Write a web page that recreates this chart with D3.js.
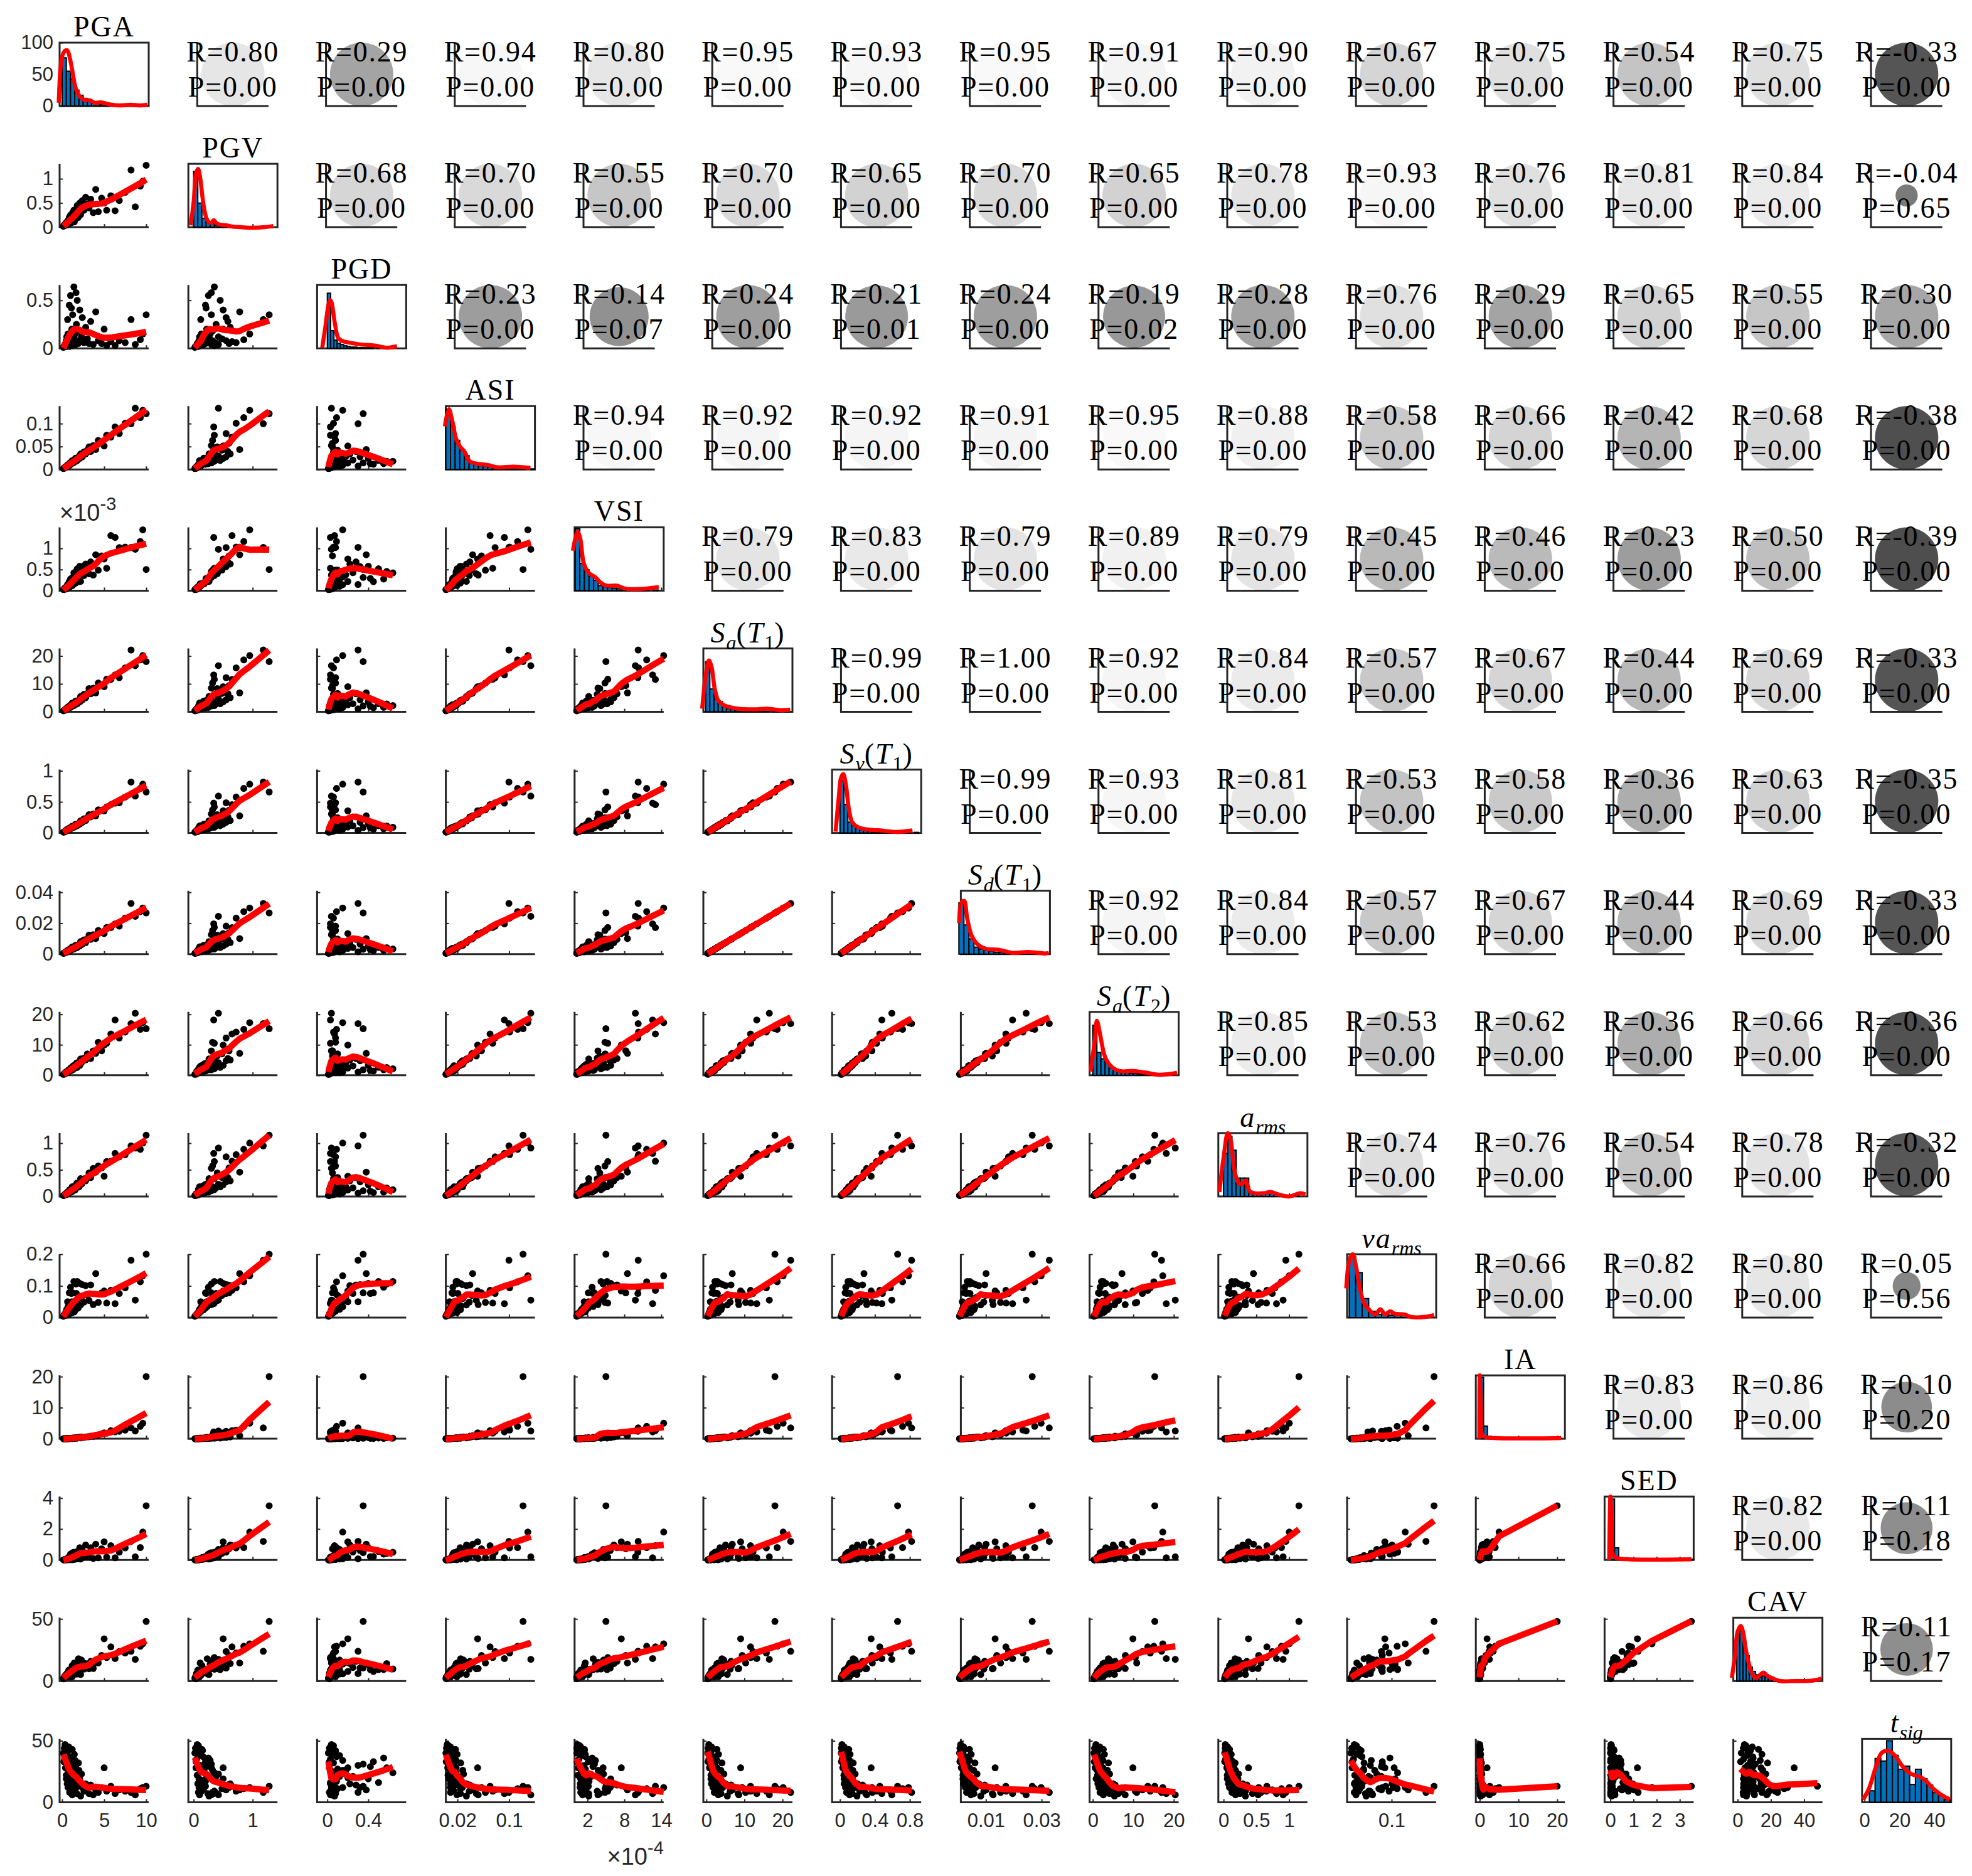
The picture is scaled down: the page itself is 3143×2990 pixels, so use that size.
<!DOCTYPE html>
<html>
<head>
<meta charset="utf-8">
<title>Correlation matrix</title>
<script src="https://d3js.org/d3.v7.min.js"></script>
<style>
  body { margin: 0; background: #fff; }
</style>
</head>
<body>
<div id="chartDiv"></div>
<script>
// ---------- variables (one value per record) ----------
var names = ['PGA', 'PGV', 'PGD', 'ASI', 'VSI', '$S_a(T_1)$', '$S_v(T_1)$', '$S_d(T_1)$', '$S_a(T_2)$',
             '$a_{rms}$', '$va_{rms}$', 'IA', 'SED', 'CAV', '$t_{sig}$'];

var PGA = [0.15,0.25,0.3,0.4,0.45,0.5,0.55,0.6,0.65,0.7,0.75,0.8,0.85,0.9,0.95,1.0,1.05,1.1,1.15,1.2,1.25,1.3,1.35,1.4,1.5,1.55,1.6,1.7,1.75,1.8,1.9,2.0,2.1,2.2,2.3,2.4,2.6,2.8,3.0,3.2,3.4,3.7,4.0,4.3,4.7,5.0,5.3,5.8,6.3,6.8,7.5,8.2,8.7,9.3,9.6,10.0,
           0.2,0.35,0.5,0.6,0.7,0.8,0.9,1.0,1.1,1.2,1.3,1.45,1.65,1.95];
var PGV = [0.02,0.03,0.05,0.04,0.08,0.06,0.10,0.07,0.12,0.09,0.15,0.11,0.20,0.08,0.14,0.25,0.12,0.18,0.22,0.10,0.30,0.16,0.13,0.35,0.20,0.28,0.17,0.38,0.24,0.45,0.20,0.32,0.50,0.26,0.42,0.55,0.35,0.62,0.48,0.40,0.58,0.30,0.78,0.32,0.60,0.50,0.35,0.65,0.34,0.55,0.72,1.18,0.42,0.85,0.95,1.28,
           0.04,0.06,0.09,0.05,0.13,0.07,0.16,0.09,0.21,0.14,0.26,0.11,0.30,0.23];
var PGD = [0.01,0.02,0.03,0.02,0.06,0.05,0.12,0.03,0.30,0.04,0.08,0.05,0.45,0.02,0.07,0.55,0.04,0.10,0.20,0.03,0.35,0.06,0.05,0.64,0.09,0.15,0.04,0.25,0.08,0.50,0.05,0.18,0.40,0.07,0.12,0.32,0.06,0.22,0.10,0.05,0.28,0.04,0.38,0.08,0.05,0.20,0.03,0.07,0.03,0.08,0.06,0.30,0.04,0.09,0.15,0.35,
           0.02,0.04,0.08,0.02,0.15,0.03,0.09,0.03,0.42,0.06,0.12,0.04,0.58,0.06];
var ASI = [0.0021,0.0029,0.0046,0.0049,0.0063,0.0054,0.0074,0.0092,0.0075,0.0090,0.0110,0.0092,0.0114,0.0092,0.0146,0.0128,0.0121,0.0155,0.0140,0.0192,0.0144,0.0175,0.0147,0.0179,0.0221,0.0179,0.0246,0.0207,0.0246,0.0196,0.0243,0.0282,0.0242,0.0338,0.0294,0.0276,0.0383,0.0340,0.0422,0.0492,0.0392,0.0521,0.0435,0.0633,0.0572,0.0512,0.0746,0.0705,0.0927,0.0783,0.1008,0.0997,0.1336,0.1131,0.1290,0.1216,
           0.0026,0.0040,0.0070,0.0065,0.0094,0.0092,0.0132,0.0122,0.0127,0.0169,0.0158,0.0195,0.0180,0.0250];
var VSI = [0.26e-4,0.25e-4,0.60e-4,0.50e-4,0.73e-4,0.44e-4,1.03e-4,0.83e-4,1.46e-4,0.79e-4,1.50e-4,1.00e-4,2.13e-4,0.90e-4,1.54e-4,2.75e-4,1.18e-4,1.65e-4,2.16e-4,1.20e-4,3.13e-4,1.79e-4,1.52e-4,4.20e-4,2.25e-4,3.29e-4,1.80e-4,4.25e-4,2.19e-4,5.18e-4,2.14e-4,3.75e-4,5.78e-4,2.20e-4,4.60e-4,5.70e-4,3.58e-4,6.30e-4,4.88e-4,4.00e-4,6.80e-4,3.70e-4,8.50e-4,4.84e-4,8.23e-4,7.50e-4,5.30e-4,13.05e-4,12.60e-4,10.20e-4,10.31e-4,10.25e-4,9.79e-4,11.63e-4,14.40e-4,5.00e-4,
           0.30e-4,0.39e-4,0.88e-4,0.53e-4,1.40e-4,0.90e-4,1.69e-4,1.00e-4,2.89e-4,1.50e-4,2.60e-4,1.63e-4,4.54e-4,2.93e-4];
var SaT1 = [0.36,0.45,0.66,0.80,0.77,1.20,1.05,1.32,1.04,1.75,1.35,1.68,1.45,2.07,1.90,1.60,2.52,2.09,2.53,3.12,2.13,2.86,2.57,2.24,3.45,2.79,3.84,2.89,3.85,2.88,3.99,3.80,3.57,5.50,4.60,4.32,6.24,5.04,6.60,8.32,6.46,8.51,6.80,10.32,9.40,9.00,11.66,11.60,13.23,12.24,15.75,22.14,16.53,18.60,20.16,18.00,
            0.44,0.63,1.20,1.14,1.54,1.36,2.16,2.00,1.98,2.76,2.47,3.19,2.81,4.10];
var SvT1 = [0.014,0.016,0.025,0.032,0.027,0.045,0.042,0.048,0.042,0.064,0.053,0.059,0.059,0.076,0.074,0.066,0.089,0.081,0.095,0.110,0.086,0.106,0.099,0.092,0.124,0.110,0.140,0.116,0.141,0.118,0.143,0.147,0.143,0.195,0.174,0.171,0.227,0.200,0.245,0.295,0.259,0.306,0.275,0.371,0.366,0.357,0.419,0.456,0.480,0.486,0.578,0.820,0.594,0.717,0.785,0.660,
            0.017,0.023,0.048,0.042,0.061,0.049,0.083,0.072,0.080,0.101,0.098,0.116,0.113,0.152];
var SdT1 = [0.00053,0.00067,0.00098,0.00118,0.00114,0.00178,0.00155,0.00195,0.00154,0.00259,0.00200,0.00249,0.00215,0.00306,0.00281,0.00237,0.00373,0.00309,0.00374,0.00462,0.00315,0.00423,0.00380,0.00332,0.00511,0.00413,0.00568,0.00428,0.00570,0.00426,0.00591,0.00562,0.00528,0.00814,0.00681,0.00639,0.00924,0.00746,0.00977,0.01231,0.00956,0.01259,0.01006,0.01527,0.01391,0.01332,0.01726,0.01717,0.01958,0.01812,0.02331,0.03277,0.02446,0.02753,0.02984,0.02664,
            0.00065,0.00093,0.00178,0.00169,0.00228,0.00201,0.00320,0.00296,0.00293,0.00408,0.00366,0.00472,0.00416,0.00607];
var SaT2 = [0.30,0.41,0.65,0.58,0.89,1.17,0.84,1.24,1.05,1.51,1.08,1.80,1.38,1.78,1.45,1.80,2.46,1.78,2.38,2.59,1.80,2.57,3.16,2.14,3.24,2.51,3.60,3.06,4.10,2.59,3.93,3.60,3.21,5.35,4.14,4.75,5.62,5.04,7.02,6.34,5.51,7.99,7.20,10.84,8.04,9.90,10.49,13.57,18.14,12.24,14.18,16.97,20.36,15.07,17.28,15.30,
            0.36,0.76,0.81,1.19,1.07,1.73,1.46,2.07,1.58,2.59,2.22,2.87,2.52,3.86];
var arms = [0.017,0.024,0.031,0.049,0.034,0.057,0.047,0.074,0.062,0.090,0.057,0.084,0.073,0.128,0.099,0.081,0.140,0.099,0.120,0.182,0.107,0.161,0.180,0.126,0.171,0.125,0.205,0.162,0.249,0.180,0.226,0.181,0.219,0.334,0.229,0.274,0.333,0.293,0.356,0.441,0.355,0.527,0.456,0.572,0.536,0.380,0.655,0.661,0.808,0.743,0.784,0.950,0.909,0.884,1.003,1.150,
            0.017,0.027,0.057,0.048,0.070,0.061,0.077,0.124,0.099,0.091,0.136,0.117,0.157,0.176];
var varms = [0.004,0.006,0.010,0.007,0.017,0.013,0.026,0.012,0.050,0.016,0.028,0.019,0.078,0.012,0.025,0.096,0.019,0.034,0.050,0.016,0.078,0.026,0.022,0.114,0.035,0.052,0.025,0.076,0.038,0.114,0.030,0.060,0.108,0.040,0.065,0.104,0.049,0.101,0.070,0.054,0.103,0.041,0.139,0.048,0.078,0.084,0.046,0.086,0.044,0.076,0.094,0.181,0.055,0.113,0.132,0.200,
             0.007,0.012,0.020,0.008,0.034,0.012,0.030,0.014,0.076,0.024,0.046,0.018,0.106,0.035];
var IA = [0.005,0.012,0.016,0.03,0.025,0.033,0.04,0.038,0.054,0.045,0.063,0.082,0.082,0.061,0.082,0.11,0.091,0.123,0.134,0.092,0.165,0.168,0.135,0.177,0.23,0.246,0.214,0.256,0.2,0.24,0.31,0.4,0.42,0.26,0.56,0.42,0.46,0.6,0.65,0.63,0.82,0.77,0.96,1.2,1.6,1.9,1.8,2.6,2.2,2.4,2.8,3.5,2.5,4.0,5.0,20.0,
          0.004,0.016,0.028,0.043,0.059,0.077,0.101,0.113,0.131,0.164,0.179,0.246,0.317,0.456];
var SED = [0.003,0.007,0.015,0.008,0.049,0.013,0.063,0.012,0.072,0.016,0.158,0.051,0.220,0.009,0.059,0.376,0.024,0.146,0.162,0.010,0.466,0.060,0.025,0.491,0.114,0.445,0.053,0.506,0.067,0.541,0.087,0.445,0.793,0.056,0.678,0.606,0.184,0.963,0.423,0.187,0.786,0.090,1.016,0.137,0.721,1.169,0.184,0.917,0.135,0.505,0.779,1.2,0.2,0.8,1.8,3.5,
           0.009,0.028,0.026,0.017,0.073,0.037,0.158,0.022,0.214,0.141,0.237,0.079,0.421,0.283];
var CAV = [2.2,3.4,3.5,4.4,5.0,4.0,5.7,3.6,6.0,3.5,7.7,6.7,7.7,3.3,5.7,9.3,4.5,8.6,7.7,3.5,10.6,7.2,5.2,9.7,9.3,13.6,7.2,10.9,5.6,9.2,9.4,15.1,13.3,5.3,16.9,10.5,9.6,14.1,12.5,9.9,15.9,10.1,14.6,14.6,20.6,34.0,18.9,27.5,18.1,23.8,22.6,24,17.5,28,30,48,
           1.8,4.1,3.5,6.3,5.8,8.8,9.1,6.3,9.2,12.5,9.1,14.6,14.1,18.0];
var tsig = [40,44,35,28,46,22,38,15,30,12,42,25,33,8,18,36,10,27,20,6,31,14,9,24,17,34,11,21,7,16,13,26,19,5,23,12,9,15,11,7,14,6,10,8,12,28,9,13,7,10,9,8,6,11,12,13,
            33,47,19,41,26,45,37,16,29,43,21,39,28,32];

var series = [PGA, PGV, PGD, ASI, VSI, SaT1, SvT1, SdT1, SaT2, arms, varms, IA, SED, CAV, tsig];

// ---------- axis limits and ticks ----------
var xLim = [[-0.3,10.3],[-0.09,1.42],[-0.1,0.77],[0.002,0.14],[-0.1e-4,14.4e-4],[-0.8,22.6],[-0.09,0.93],
            [0.001,0.033],[-0.8,21.2],[-0.08,1.28],[-0.005,0.205],[-1,22],[-0.25,3.6],[-2.6,51],[-1.4,49.6]];
var yLim = [[0,100],[0,1.31],[0,0.66],[0,0.138],[0,1.5e-3],[0,22.7],[0,1.02],[0,0.041],[0,20.8],
            [0,1.19],[0,0.2],[0,20.4],[0,4.1],[0,51],[0,51.6]];
var xTicks = [[0,5,10],[0,1],[0,0.4],[0.02,0.1],[2e-4,8e-4,14e-4],[0,10,20],[0,0.4,0.8],[0.01,0.03],
              [0,10,20],[0,0.5,1],[0.1],[0,10,20],[0,1,2,3],[0,20,40],[0,20,40]];
var yTicks = [[0,50,100],[0,0.5,1],[0,0.5],[0,0.05,0.1],[0,0.5e-3,1e-3],[0,10,20],[0,0.5,1],[0,0.02,0.04],
              [0,10,20],[0,0.5,1],[0,0.1,0.2],[0,10,20],[0,2,4],[0,50],[0,50]];
var xExp = [0,0,0,0,-4,0,0,0,0,0,0,0,0,0,0];
var yExp = [0,0,0,0,-3,0,0,0,0,0,0,0,0,0,0];

// ---------- correlation coefficients (upper triangle, row i, columns i+1..14) ----------
var Rvals = [
  [0.80,0.29,0.94,0.80,0.95,0.93,0.95,0.91,0.90,0.67,0.75,0.54,0.75,-0.33],
  [0.68,0.70,0.55,0.70,0.65,0.70,0.65,0.78,0.93,0.76,0.81,0.84,-0.04],
  [0.23,0.14,0.24,0.21,0.24,0.19,0.28,0.76,0.29,0.65,0.55,0.30],
  [0.94,0.92,0.92,0.91,0.95,0.88,0.58,0.66,0.42,0.68,-0.38],
  [0.79,0.83,0.79,0.89,0.79,0.45,0.46,0.23,0.50,-0.39],
  [0.99,1.00,0.92,0.84,0.57,0.67,0.44,0.69,-0.33],
  [0.99,0.93,0.81,0.53,0.58,0.36,0.63,-0.35],
  [0.92,0.84,0.57,0.67,0.44,0.69,-0.33],
  [0.85,0.53,0.62,0.36,0.66,-0.36],
  [0.74,0.76,0.54,0.78,-0.32],
  [0.66,0.82,0.80,0.05],
  [0.83,0.86,0.10],
  [0.82,0.11],
  [0.11]
];
var Pvals = [
  [0,0,0,0,0,0,0,0,0,0,0,0,0,0],
  [0,0,0,0,0,0,0,0,0,0,0,0,0.65],
  [0,0.07,0,0.01,0,0.02,0,0,0,0,0,0],
  [0,0,0,0,0,0,0,0,0,0,0],
  [0,0,0,0,0,0,0,0,0,0],
  [0,0,0,0,0,0,0,0,0],
  [0,0,0,0,0,0,0,0],
  [0,0,0,0,0,0,0],
  [0,0,0,0,0,0],
  [0,0,0,0,0],
  [0,0,0,0.56],
  [0,0,0.20],
  [0,0.18],
  [0.17]
];

// ---------- diagonal histograms (counts) and density curves ----------
var histStart = [0, 0, 0, 0.002, 0, -0.2, 0, 0.0003, 0, 0, 0, 0, 0, -0.6, 2.75];
var histWidth = [0.5, 0.07, 0.032, 0.0072, 0.75e-4, 1.1, 0.045, 0.0018, 1.0, 0.064, 0.0153, 1.0, 0.18, 1.9, 3.3];
var histCounts = [
  [76,55,43,25,17,12,7,5,3,3,2,2,1,1,1,1,0,1,0,1],
  [88,38,14,9,6,3,2,2,1,1,1,0,0,1,0,0,0,1],
  [87,28,13,8,6,4,3,2,2,1,1,1,1,1,0,1,0,1,1,0],
  [95,68,46,30,22,12,8,6,5,4,3,2,2,2,1,1,1,0,1],
  [98,43,33,23,16,8,6,5,4,3,2,2,1,1,1,1,0,1,0],
  [79,36,20,16,8,5,4,3,2,2,1,1,1,1,1,0,1,1,0,1],
  [82,45,17,11,7,5,4,3,2,2,1,1,1,1,0,1,0,1,0,1],
  [81,46,24,11,8,6,5,3,3,2,2,2,1,1,1,1,0,1],
  [79,36,26,21,11,8,6,4,4,3,3,2,2,1,1,1,1,0,1,1],
  [68,95,73,29,29,29,7,5,4,4,5,5,3,1,1,1,0,1,0],
  [96,71,30,10,5,6,4,5,3,2,1,1,1],
  [97,20,4,2,1,1,0,0,0,0,0,0,0,0,0,0,0,0,0,0,1],
  [96,19,3,2,1,1,0,0,0,0,0,0,0,0,0,0,0,0,0,1],
  [74,80,56,40,22,15,10,6,8,10,6,3,1,0,0,0,0,0,0,0,0,0,0,0,0,1],
  [18,69,65,97,74,52,57,28,52,37,27,15,11,4]
];
var density = [
  [[-0.4,5],[-0.1,71],[0.2,85],[0.6,88],[0.93,75],[1.26,52],[1.6,29],[2.1,15],[2.6,10],[3.3,9],[3.9,5],[4.6,6],[5.2,4],[5.9,2],[6.9,1],[8.2,2],[9.2,1],[10.1,2]],
  [[-0.05,3],[0.0,40],[0.04,85],[0.075,92],[0.11,78],[0.146,50],[0.18,28],[0.217,14],[0.26,8],[0.3,7],[0.34,11],[0.38,7],[0.45,4],[0.55,3],[0.65,1],[0.8,0],[1.0,-1],[1.2,0],[1.35,2]],
  [[-0.05,1],[-0.02,33],[0.01,68],[0.027,76],[0.04,73],[0.075,38],[0.107,16],[0.155,11],[0.235,8.5],[0.33,6],[0.46,4.5],[0.585,1],[0.68,3.5]],
  [[0.0005,68],[0.0066,95],[0.0117,78],[0.018,48],[0.024,36],[0.031,28],[0.039,13],[0.051,9],[0.067,7],[0.082,3.5],[0.107,4.5],[0.133,2.5]],
  [[-0.37e-4,63],[0.37e-4,93],[0.8e-4,83],[1.4e-4,43],[2.2e-4,28],[3.3e-4,21],[4.1e-4,13],[5.1e-4,8],[6.7e-4,8],[8.3e-4,3],[11e-4,3],[13.6e-4,6]],
  [[-1.1,5],[-0.2,56],[0.66,81],[1.35,71],[2.2,36],[3.1,18],[4.4,11],[5.7,8],[8.2,5],[12.6,4],[16,5],[19.5,2.5],[22,3.5]],
  [[-0.05,2],[-0.013,57],[0.012,87],[0.038,93],[0.067,77],[0.103,37],[0.14,17],[0.194,10],[0.285,6],[0.467,4],[0.65,1.5],[0.83,4]],
  [[0.0004,49],[0.0012,81],[0.0022,84],[0.0033,56],[0.0049,29],[0.0069,16],[0.0099,8.5],[0.0146,7],[0.0194,2],[0.0253,3.5],[0.0312,1],[0.0326,2]],
  [[-0.55,6],[0.5,56],[1.0,86],[1.9,61],[2.9,31],[4.2,16],[5.8,8.5],[7.5,6],[9.6,7],[12.8,4.5],[16,1],[19.1,2],[20.8,4]],
  [[-0.064,7],[0.0,61],[0.064,100],[0.11,88],[0.16,44],[0.224,22],[0.27,19],[0.336,25],[0.4,8],[0.48,5],[0.61,5],[0.72,7],[0.84,3],[1.0,0],[1.17,5],[1.25,3]],
  [[-0.007,46],[0.0004,90],[0.008,100],[0.016,81],[0.025,46],[0.035,23],[0.046,13],[0.062,5],[0.073,13],[0.085,5],[0.096,10],[0.108,6],[0.13,5],[0.146,1],[0.184,1.5],[0.2,4]],
  [[-0.1,0],[0.0,100],[0.3,40],[0.5,9],[1,4],[2,2],[4,1],[8,0.5],[14,0.5],[21,1]],
  [[-0.05,0],[0.0,100],[0.05,45],[0.1,10],[0.2,4],[0.4,2],[0.8,1],[1.5,0.5],[2.5,0.5],[3.5,1]],
  [[-3.5,5],[-1.4,44],[-0.1,77],[1.8,87],[3.3,77],[4.9,50],[6.8,27],[8.6,12],[11.1,5],[13.6,10],[15.5,13.5],[18,8],[20.5,5],[25.5,0],[34.2,0],[45.4,0.7],[50.4,4]],
  [[-0.8,4],[2.75,23],[6.3,54],[9.9,78],[14,81],[17.6,73],[21.7,57],[26.5,45],[31.8,40],[35.4,33],[39.5,21],[44.3,11],[49,4]]
];

// ---------- layout ----------
var W = 3143, H = 2990;
var left0 = 95, top0 = 68, stepX = 205.2, stepY = 193.1;
var bw = 142, bh = 101;
var nv = names.length;
var axisColor = '#262626';
var serif = '"Liberation Serif", "Times New Roman", serif';
var sans = '"Liberation Sans", Arial, Helvetica, sans-serif';

var svg = d3.select('#chartDiv').append('svg')
  .attr('width', W).attr('height', H)
  .style('background', '#fff');

var gray = d3.scaleLinear().domain([-1, 1]).range(['#000000', '#ffffff']);
var radius = d3.scaleLinear().domain([0, 1]).range([bh / 2, 0]);
var fmt = d3.format('~g');

function tickFmt(e) {
  var s = Math.pow(10, e);
  return function(d) { return fmt(+(d / s).toPrecision(6)); };
}

// local linear smoother (tricube weights)
function lowess(xs, ys, frac) {
  var n = xs.length, k = Math.max(4, Math.floor(frac * n));
  var order = d3.range(n).sort(function(a, b) { return xs[a] - xs[b]; });
  var out = [], last = null;
  order.forEach(function(i) {
    var x0 = xs[i];
    if (x0 === last) return;
    last = x0;
    var d = xs.map(function(x) { return Math.abs(x - x0); });
    var h = d.slice().sort(function(a, b) { return a - b; })[k - 1] * 1.0001 || 1e-12;
    var sw = 0, sx = 0, sy = 0, sxx = 0, sxy = 0;
    for (var m = 0; m < n; m++) {
      var u = d[m] / h;
      if (u >= 1) continue;
      var w = Math.pow(1 - u * u * u, 3);
      sw += w; sx += w * xs[m]; sy += w * ys[m];
      sxx += w * xs[m] * xs[m]; sxy += w * xs[m] * ys[m];
    }
    var mx = sx / sw, my = sy / sw, vx = sxx / sw - mx * mx;
    var b = vx > 1e-20 ? (sxy / sw - mx * my) / vx : 0;
    out.push([x0, my + b * (x0 - mx)]);
  });
  return out;
}

// tiny TeX-like parser for the titles
function parseTitle(s) {
  if (s[0] !== '$') return [{ t: s, it: false, sub: false }];
  s = s.slice(1, -1);
  var out = [], i = 0;
  while (i < s.length) {
    var c = s[i];
    if (c === '_') {
      var sub;
      if (s[i + 1] === '{') { var e = s.indexOf('}', i); sub = s.slice(i + 2, e); i = e + 1; }
      else { sub = s[i + 1]; i += 2; }
      out.push({ t: sub, it: /[a-z]/i.test(sub), sub: true });
    } else {
      out.push({ t: c, it: /[a-z]/i.test(c), sub: false });
      i++;
    }
  }
  return out;
}

function addTitle(g, cx, base, label) {
  var txt = g.append('text')
    .attr('x', cx).attr('y', base)
    .attr('text-anchor', 'middle')
    .attr('font-family', serif)
    .attr('font-size', 46)
    .attr('letter-spacing', 2)
    .attr('fill', '#000');
  var shift = 0;
  parseTitle(label).forEach(function(seg) {
    var s = seg.sub ? 11 : 0;
    txt.append('tspan')
      .attr('dy', s - shift)
      .attr('font-style', seg.it ? 'italic' : 'normal')
      .attr('font-size', seg.sub ? 32 : 46)
      .attr('letter-spacing', seg.sub ? 0 : 2)
      .text(seg.t);
    shift = s;
  });
}

function innerTicks(g, x, y, xt, yt, bottom, left) {
  g.append('g')
    .attr('transform', 'translate(0,' + bottom + ')')
    .call(d3.axisBottom(x).tickValues(xt).tickSizeInner(-5).tickSizeOuter(0).tickFormat(''))
    .call(function(a) { a.select('.domain').remove(); a.selectAll('line').attr('stroke', axisColor).attr('stroke-width', 2); });
  if (yt) {
    g.append('g')
      .attr('transform', 'translate(' + left + ',0)')
      .call(d3.axisLeft(y).tickValues(yt).tickSizeInner(-5).tickSizeOuter(0).tickFormat(''))
      .call(function(a) { a.select('.domain').remove(); a.selectAll('line').attr('stroke', axisColor).attr('stroke-width', 2); });
  }
}

function drawDiag(g, k, x0, y0) {
  var x = d3.scaleLinear().domain(xLim[k]).range([x0, x0 + bw]);
  var y = d3.scaleLinear().domain([0, 100]).range([y0 + bh, y0]);

  g.append('rect')
    .attr('x', x0).attr('y', y0).attr('width', bw).attr('height', bh)
    .attr('fill', 'none').attr('stroke', axisColor).attr('stroke-width', 3);

  innerTicks(g, x, y, xTicks[k], k === 0 ? yTicks[0] : null, y0 + bh, x0);

  g.selectAll('rect.bar')
    .data(histCounts[k].map(function(c, b) { return { c: c, b: b }; }).filter(function(d) { return d.c > 0; }))
    .enter().append('rect')
      .attr('class', 'bar')
      .attr('x', function(d) { return x(histStart[k] + d.b * histWidth[k]); })
      .attr('width', function(d) { return x(histStart[k] + (d.b + 1) * histWidth[k]) - x(histStart[k] + d.b * histWidth[k]); })
      .attr('y', function(d) { return y(d.c); })
      .attr('height', function(d) { return y(0) - y(d.c); })
      .attr('fill', '#0072BD')
      .attr('stroke', '#000')
      .attr('stroke-width', 2);

  g.append('path')
    .datum(density[k])
    .attr('d', d3.line().x(function(d) { return x(d[0]); }).y(function(d) { return y(d[1]); }).curve(d3.curveCatmullRom))
    .attr('fill', 'none')
    .attr('stroke', '#ff0000')
    .attr('stroke-width', 6.5)
    .attr('stroke-linejoin', 'round');

  addTitle(g, x0 + bw / 2, y0 - 10, names[k]);
}

function drawScatter(g, i, j, x0, y0) {
  var x = d3.scaleLinear().domain(xLim[j]).range([x0, x0 + bw]);
  var y = d3.scaleLinear().domain(yLim[i]).range([y0 + bh, y0]);

  g.append('path')
    .attr('d', 'M' + x0 + ',' + y0 + 'V' + (y0 + bh) + 'H' + (x0 + bw))
    .attr('fill', 'none').attr('stroke', axisColor).attr('stroke-width', 3);

  innerTicks(g, x, y, xTicks[j], yTicks[i], y0 + bh, x0);

  var xs = series[j], ys = series[i];
  g.selectAll('circle')
    .data(d3.range(xs.length))
    .enter().append('circle')
      .attr('cx', function(m) { return x(xs[m]); })
      .attr('cy', function(m) { return y(ys[m]); })
      .attr('r', 5.5)
      .attr('fill', '#000');

  g.append('path')
    .datum(lowess(xs, ys, 0.5))
    .attr('d', d3.line().x(function(d) { return x(d[0]); }).y(function(d) { return y(d[1]); }))
    .attr('fill', 'none')
    .attr('stroke', '#ff0000')
    .attr('stroke-width', 10)
    .attr('stroke-linejoin', 'round');
}

function drawCorr(g, i, j, x0, y0) {
  var r = Rvals[i][j - i - 1], p = Pvals[i][j - i - 1];
  var cx = x0 + bw / 2, cy = y0 + bh / 2;

  g.append('circle')
    .attr('cx', cx).attr('cy', cy)
    .attr('r', radius(p))
    .attr('fill', gray(r));

  g.append('path')
    .attr('d', 'M' + (cx - 0.4 * bw) + ',' + y0 + 'V' + (y0 + bh) + 'H' + (cx + 0.4 * bw))
    .attr('fill', 'none').attr('stroke', axisColor).attr('stroke-width', 3);

  [['R=' + r.toFixed(2), 30], ['P=' + p.toFixed(2), 86]].forEach(function(t) {
    g.append('text')
      .attr('x', cx).attr('y', y0 + t[1])
      .attr('text-anchor', 'middle')
      .attr('font-family', serif)
      .attr('font-size', 46)
      .attr('letter-spacing', 1.8)
      .attr('fill', '#000')
      .text(t[0]);
  });
}

for (var i = 0; i < nv; i++) {
  for (var j = 0; j < nv; j++) {
    var x0 = left0 + j * stepX, y0 = top0 + i * stepY;
    var g = svg.append('g');
    if (i === j) drawDiag(g, i, x0, y0);
    else if (i > j) drawScatter(g, i, j, x0, y0);
    else drawCorr(g, i, j, x0, y0);
  }
}

// ---------- tick labels: left column and bottom row ----------
function styleAxis(a) {
  a.select('.domain').remove();
  a.attr('font-family', sans).attr('font-size', 31).attr('color', axisColor);
}

for (var r = 0; r < nv; r++) {
  var ry0 = top0 + r * stepY;
  var ys = d3.scaleLinear().domain(yLim[r]).range([ry0 + bh, ry0]);
  svg.append('g')
    .attr('transform', 'translate(' + left0 + ',0)')
    .call(d3.axisLeft(ys).tickValues(yTicks[r]).tickSize(0).tickPadding(10).tickFormat(tickFmt(yExp[r])))
    .call(styleAxis);
}

var bottomY = top0 + (nv - 1) * stepY + bh;
for (var c = 0; c < nv; c++) {
  var cx0 = left0 + c * stepX;
  var xs = d3.scaleLinear().domain(xLim[c]).range([cx0, cx0 + bw]);
  svg.append('g')
    .attr('transform', 'translate(0,' + bottomY + ')')
    .call(d3.axisBottom(xs).tickValues(xTicks[c]).tickSize(0).tickPadding(18).tickFormat(tickFmt(xExp[c])))
    .call(styleAxis);
}

// exponent labels
function expLabel(x, y, anchor, e) {
  var t = svg.append('text')
    .attr('x', x).attr('y', y)
    .attr('text-anchor', anchor)
    .attr('font-family', sans)
    .attr('font-size', 38)
    .attr('fill', axisColor);
  t.append('tspan').text('\u00d710');
  t.append('tspan').attr('dy', -17).attr('font-size', 29).text(String(e));
}
yExp.forEach(function(e, r) {
  if (e) expLabel(left0, top0 + r * stepY - 10, 'start', e);
});
xExp.forEach(function(e, c) {
  if (e) expLabel(left0 + c * stepX + bw, bottomY + 100, 'end', e);
});
</script>
</body>
</html>
